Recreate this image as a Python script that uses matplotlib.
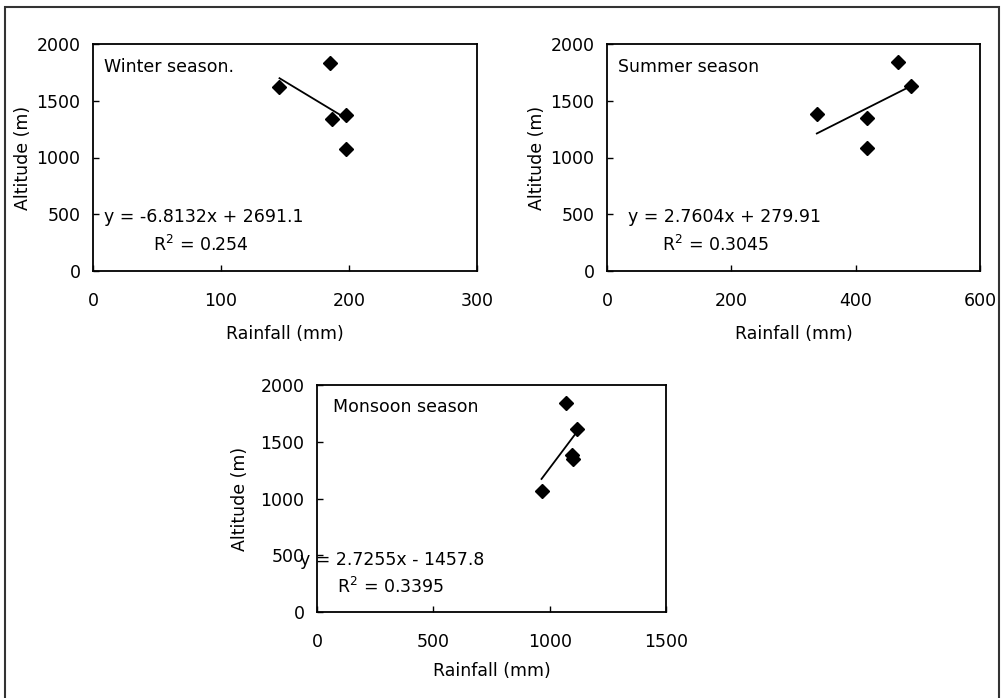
import matplotlib.pyplot as plt
from matplotlib.patches import Rectangle

W, H = 1007, 698

# Datos
altitud_invierno = [1618, 1830, 1339, 1374, 1075]
lluvia_invierno = [145.7, 184.9, 186.7, 197.9, 197.4]

altitud_verano = [1383, 1345, 1086, 1841, 1630]
lluvia_verano = [337.5, 418, 418, 468.7, 488.6]

altitud_monzon = [1839, 1609, 1382, 1347, 1065]
lluvia_monzon = [1068.5, 1116, 1094, 1101, 965]

titulos = ["Winter season.", "Summer season", "Monsoon season"]
ecuaciones = ["y = -6.8132x + 2691.1", "y = 2.7604x + 279.91", "y = 2.7255x - 1457.8"]
r2_textos = ["R$^2$ = 0.254", "R$^2$ = 0.3045", "R$^2$ = 0.3395"]
pendientes = [-6.8132, 2.7604, 2.7255]
interceptos = [2691.1, 279.91, -1457.8]
xmax = [300, 600, 1500]
xticks = [[0, 100, 200, 300], [0, 200, 400, 600], [0, 500, 1000, 1500]]
yticks = [0, 500, 1000, 1500, 2000]

# caja de cada panel en pixeles: izquierda, derecha, arriba, abajo
cajas = [(93, 477, 44, 271), (607, 980, 44, 271), (317, 666, 385, 612)]
# posiciones de textos (pixeles)
pos_titulo = [(104, 67), (618, 67), (333, 407)]
pos_eq = [((104, 217), (153, 245)), ((628, 217), (662, 245)), ((300, 560), (337, 587))]
pad_ylabel = [3, 3, 8]
pad_xlabel = [11, 11, 8]

fs = 12.5
plt.rcParams['font.family'] = 'DejaVu Sans'
fig = plt.figure(figsize=(W / 100, H / 100), dpi=100)

# borde exterior del escaneo
fig.patches.append(Rectangle((5 / W, -0.05), (999 - 5) / W, 1.05 - 7 / H,
                             transform=fig.transFigure, fill=False,
                             edgecolor='#333333', linewidth=1.5))

datos = [(lluvia_invierno, altitud_invierno),
         (lluvia_verano, altitud_verano),
         (lluvia_monzon, altitud_monzon)]

for i, (x, y) in enumerate(datos):
    l, r, t, b = cajas[i]
    ax = fig.add_axes([l / W, 1 - b / H, (r - l) / W, (b - t) / H])
    ax.plot(x, y, linestyle='none', marker='D', markersize=7.5, color='black')
    x0, x1 = min(x), max(x)
    ax.plot([x0, x1], [pendientes[i] * x0 + interceptos[i], pendientes[i] * x1 + interceptos[i]],
            color='black', linewidth=1.3)
    ax.set_xlim(0, xmax[i])
    ax.set_ylim(0, 2000)
    ax.set_xticks(xticks[i])
    ax.set_yticks(yticks)
    ax.tick_params(direction='in', length=4, width=1, labelsize=fs, colors='black')
    ax.tick_params(axis='x', pad=15)
    ax.tick_params(axis='y', pad=9)
    for s in ax.spines.values():
        s.set_linewidth(1.3)
    ax.set_xlabel("Rainfall (mm)", fontsize=fs, labelpad=pad_xlabel[i])
    ax.set_ylabel("Altitude (m)", fontsize=fs, labelpad=pad_ylabel[i])
    tx, ty = pos_titulo[i]
    fig.text(tx / W, 1 - ty / H, titulos[i], fontsize=fs, va='center', ha='left')
    (ex, ey), (rx, ry) = pos_eq[i]
    fig.text(ex / W, 1 - ey / H, ecuaciones[i], fontsize=fs, va='center', ha='left')
    fig.text(rx / W, 1 - ry / H, r2_textos[i], fontsize=fs, va='center', ha='left')

plt.savefig("out.png", dpi=100)
